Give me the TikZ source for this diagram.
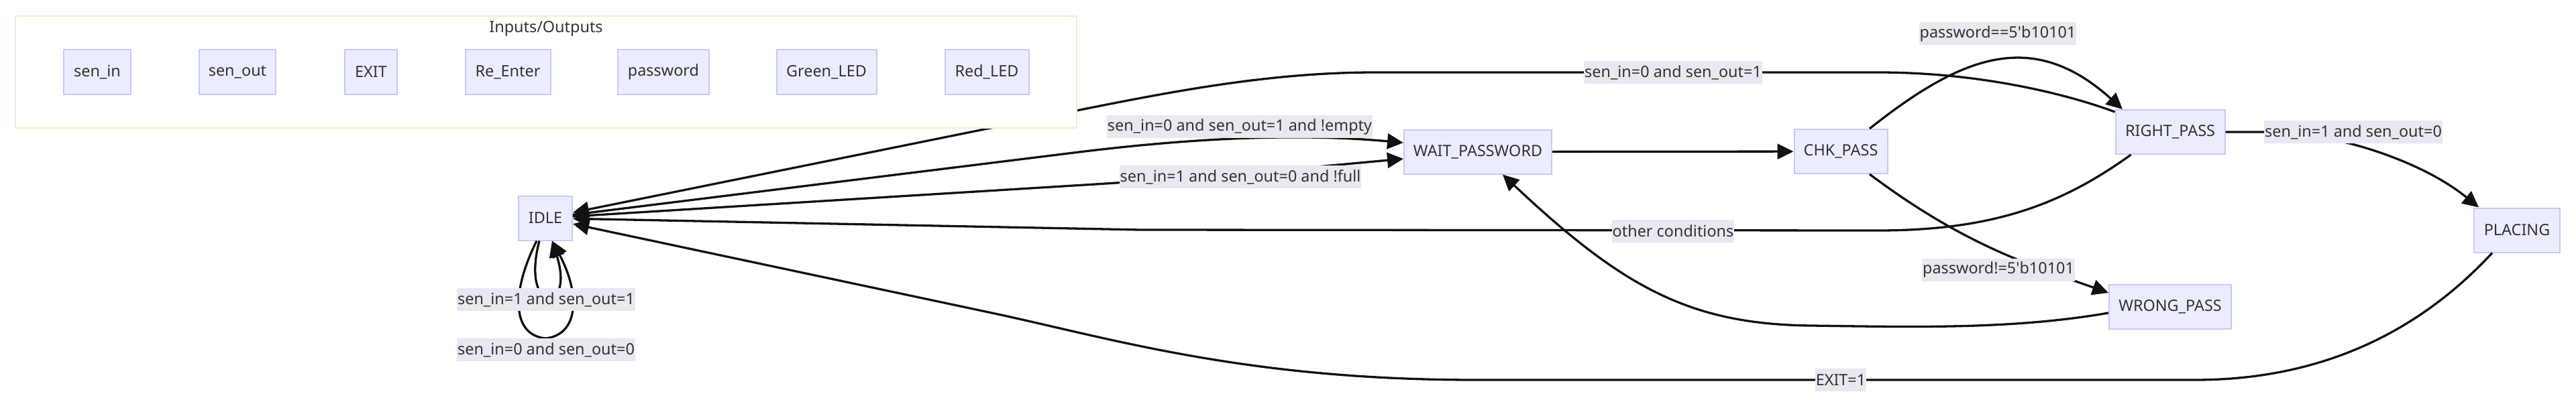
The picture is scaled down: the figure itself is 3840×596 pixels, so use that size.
\documentclass[tikz,border=0pt]{standalone}
\usepackage{fontspec}
\setmainfont{Noto Sans}[Ligatures=TeXOff]
\usetikzlibrary{arrows.meta,calc}
\definecolor{nodefill}{RGB}{236,236,255}
\definecolor{nodeline}{RGB}{200,200,250}
\definecolor{lblfill}{RGB}{232,232,240}
\definecolor{clline}{RGB}{238,238,212}
\definecolor{txt}{RGB}{51,51,51}
\definecolor{edgecol}{RGB}{17,17,17}
\begin{document}
\begin{tikzpicture}[x=0.5pt,y=-0.5pt,
  font=\fontsize{11.7pt}{14pt}\selectfont, text=txt,
  state/.style={draw=nodeline, fill=nodefill, line width=1pt, inner sep=0pt, minimum height=33pt},
  iobox/.style={state, minimum height=33.5pt},
  lbl/.style={fill=lblfill, inner xsep=0.5pt, inner ysep=0pt, minimum height=17pt},
  tr/.style={draw=edgecol, line width=1.65pt, -{Triangle[length=12pt,width=11.5pt]}},
]
\useasboundingbox (0,0) rectangle (3840,596);
\fill[white] (0,0) rectangle (3840,596);

% states
\node[state, minimum width=40pt] (idle) at (813,325.5) {IDLE};
\node[state, minimum width=110pt] (wait) at (2203,226.5) {WAIT\_PASSWORD};
\node[state, minimum width=69.5pt] (chk) at (2744,226) {CHK\_PASS};
\node[state, minimum width=81.5pt] (rp) at (3235,197) {RIGHT\_PASS};
\node[state, minimum width=64pt] (placing) at (3752,343.5) {PLACING};
\node[state, minimum width=91pt] (wp) at (3235,457.5) {WRONG\_PASS};

% edges
\draw[tr] (idle) -- (1600,228) .. controls (1800,203) and (1950,200) .. ($(wait.west)+(0,-13.5)$);
\draw[tr] (idle) -- (1600,277) .. controls (1800,265) and (1950,250) .. ($(wait.west)+(0,10.5)$);
\draw[tr] (wait) -- (chk);
\draw[tr] ($(chk.north)+(43,0)$) .. controls (2923,84) and (3029,41) .. ($(rp.north west)+(11.5,0)$);
\draw[tr] ($(chk.south)+(43,0)$) .. controls (2927,365) and (3024,395) .. ($(wp.west)+(0,-20.5)$);
\draw[tr] (rp.east) -- (3380,197) .. controls (3480,197) and (3610,240) .. ($(placing.north)+(-57,0)$);
\draw[tr] ($(wp.west)+(0,9.5)$) .. controls (3000,492) and (2850,488) .. (2700,486) .. controls (2520,484) and (2420,430) .. ($(wait.south)+(37,0)$);
\draw[tr] ($(rp.north west)+(0,4)$) .. controls (3080,140) and (2950,108) .. (2800,108) -- (2050,108) .. controls (1900,108) and (1760,134) .. (1620,162) -- (idle);
\draw[tr] ($(rp.south west)+(24,0)$) .. controls (3080,300) and (2980,344) .. (2800,344) -- (1700,343) -- (idle);
\draw[tr] ($(placing.south)+(-37,0)$) .. controls (3620,480) and (3480,567) .. (3272,567) -- (2200,567) .. controls (1850,567) and (1650,503) .. (1469,465) -- (idle);
\draw[tr] ($(idle.south)+(-9,0)$) .. controls (775,470) and (858,470) .. ($(idle.south)+(10,0)$);
\draw[tr] ($(idle.south)+(-13,0)$) .. controls (760,440) and (765,500) .. (813,505) .. controls (862,500) and (866,440) .. ($(idle.south)+(10,0)$);

% cluster (drawn over the edges, as in the reference)
\node[draw=clline, fill=white, line width=1pt, minimum width=791pt, minimum height=83.5pt, inner sep=0pt] (io) at (814,107.5) {};
\node (iotitle) at (814,43) {Inputs/Outputs};
\node[iobox, minimum width=50pt] (senin) at (145,107.5) {sen\_in};
\node[iobox, minimum width=57pt] (senout) at (354,107.5) {sen\_out};
\node[iobox, minimum width=39pt] (exit) at (553,107.5) {EXIT};
\node[iobox, minimum width=63.5pt] (reenter) at (757,107.5) {Re\_Enter};
\node[iobox, minimum width=68pt] (pw) at (989,107.5) {password};
\node[iobox, minimum width=74.5pt] (green) at (1232,107.5) {Green\_LED};
\node[iobox, minimum width=62.5pt] (red) at (1471,107.5) {Red\_LED};

% labels
\node[lbl] (l1) at (814,447) {sen\_in=1 and sen\_out=1};
\node[lbl] (l2) at (814,522) {sen\_in=0 and sen\_out=0};
\node[lbl] (l3) at (1848,189) {sen\_in=0 and sen\_out=1 and !empty};
\node[lbl] (l4) at (1849,264) {sen\_in=1 and sen\_out=0 and !full};
\node[lbl] (l5) at (2494,108) {sen\_in=0 and sen\_out=1};
\node[lbl] (l6) at (2494,345) {other conditions};
\node[lbl] (l7) at (2978,50) {password==5'b10101};
\node[lbl] (l8) at (2979,402.5) {password!=5'b10101};
\node[lbl] (l9) at (3508,197) {sen\_in=1 and sen\_out=0};
\node[lbl] (l10) at (2744,567) {EXIT=1};
\end{tikzpicture}
\end{document}
